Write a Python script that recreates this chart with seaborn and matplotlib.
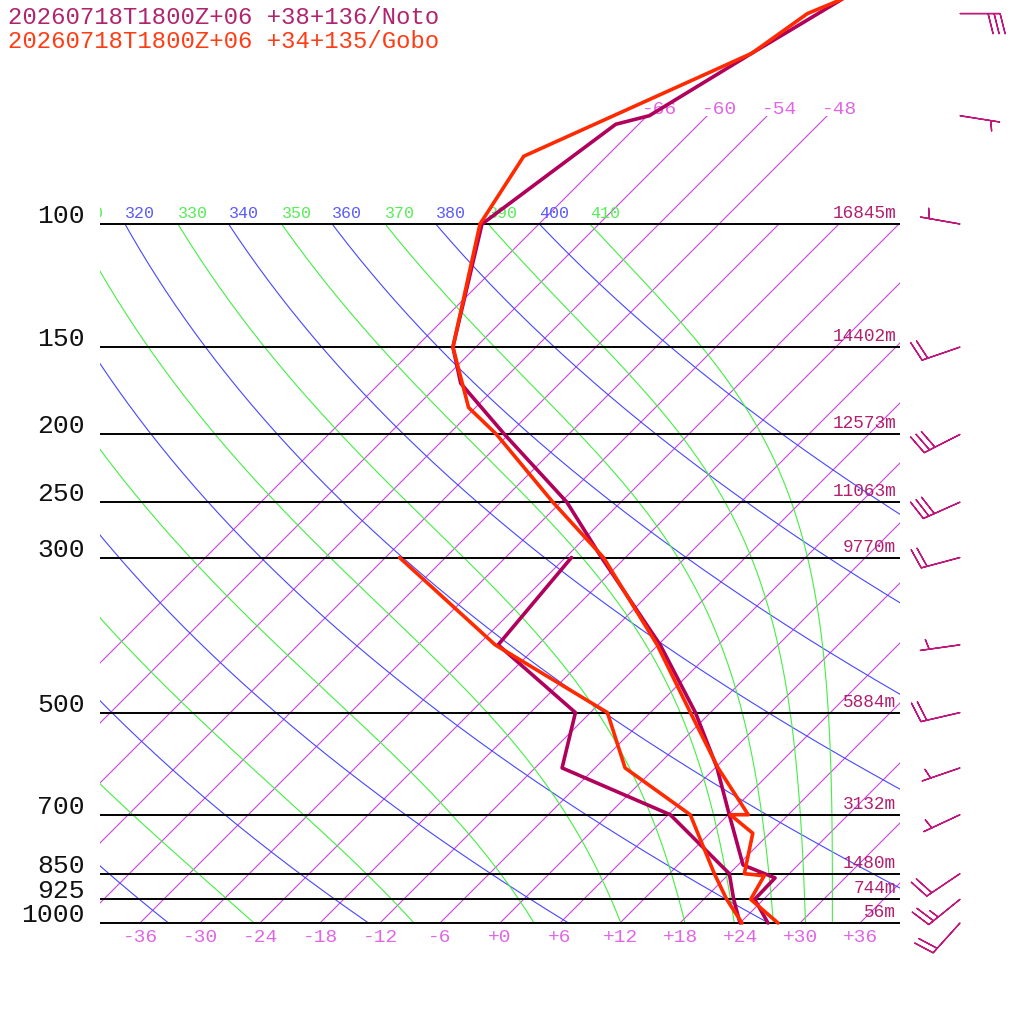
import numpy as np
import pandas as pd
import matplotlib
matplotlib.use("Agg")
import matplotlib.pyplot as plt
import matplotlib.transforms as mtransforms
from matplotlib.patches import Rectangle
import seaborn as sns

# ---- data ----
levels = [1000, 925, 850, 700, 500, 300, 250, 200, 150, 100]
level_heights = ["56m", "744m", "1480m", "3132m", "5884m", "9770m",
                 "11063m", "12573m", "14402m", "16845m"]

isotherms = list(range(-66, 37, 6))
top_isotherms = [-66, -60, -54, -48]
bottom_isotherm_labels = list(range(-36, 37, 6))
theta_lines = list(range(240, 401, 20))
thetae_lines = list(range(250, 411, 20))

noto_t_p = [1000, 925, 862, 826, 700, 600, 500, 400, 300, 250, 200, 169, 150, 100, 72, 70, 57, 48, 45]
noto_t = [26.8, 23.1, 23.0, 18.5, 12.1, 6.2, -1.5, -11.8, -26.4, -35.4, -48.4, -57.9, -62.3,
          -71.7, -68.3, -65.8, -61.8, -58.3, -57.2]
noto_td_p = [1000, 925, 850, 700, 600, 500, 400, 300]
noto_td = [24.0, 21.0, 18.0, 6.2, -9.3, -13.5, -28.0, -29.4]

gobo_t_p = [1000, 925, 856, 850, 744, 700, 700, 600, 500, 400, 300, 250, 200, 183, 150, 100, 80, 57, 50, 45]
gobo_t = [27.8, 22.7, 21.7, 19.5, 16.3, 12.2, 14.0, 6.3, -2.0, -12.1, -26.2, -36.8, -49.2, -54.7,
          -62.3, -71.9, -74.3, -61.8, -60.2, -55.7]
gobo_td_p = [1000, 925, 850, 700, 600, 500, 400, 300]
gobo_td = [24.2, 20.3, 16.5, 8.2, -3.0, -10.3, -28.3, -46.6]

wind_p = [50, 70, 100, 150, 200, 250, 300, 400, 500, 600, 700, 850, 925, 1000]
wind_dir = [90, 99, 280, 251, 243, 246, 255, 262, 257, 251, 245, 236, 231, 222]
wind_spd = [30, 5, 5, 20, 30, 30, 20, 5, 20, 5, 5, 20, 25, 20]

title_noto = "20260718T1800Z+06 +38+136/Noto"
title_gobo = "20260718T1800Z+06 +34+135/Gobo"

# ---- thermodynamics ----
SKEW = 699 / np.log(10) / 10


def skew_x(t, p):
    return np.asarray(t, float) + SKEW * np.log(1000.0 / np.asarray(p, float))


def sat_theta_e(tk, p):
    tc = tk - 273.15
    es = 6.112 * np.exp(17.67 * tc / (tc + 243.5))
    r = 622.0 * es / (p - es)
    return (tk * (1000.0 / p) ** (0.2854 * (1 - 0.28e-3 * r))
            * np.exp((3.376 / tk - 0.00254) * r * (1 + 0.81e-3 * r)))


def moist_temp(thetae, p):
    a = np.log(0.3 * p / 6.112)
    hi = np.minimum(243.5 * a / (17.67 - a) + 273.15, 330.0)
    lo = np.full_like(p, 150.0)
    for _ in range(60):
        mid = 0.5 * (lo + hi)
        big = sat_theta_e(mid, p) > thetae
        hi = np.where(big, mid, hi)
        lo = np.where(big, lo, mid)
    return 0.5 * (lo + hi) - 273.15


# ---- figure ----
sns.set_style("white")
plt.rcParams['font.family'] = ['Liberation Mono', 'DejaVu Sans Mono']

fig = plt.figure(figsize=(10.24, 10.24), dpi=100)
ax = fig.add_axes([0, 0, 1, 1])
ax.set_yscale('log')
ax.set_xlim(-50, 52.4)
p_top = 1000 * np.exp(-923 / (699 / np.log(10)))
p_bot = 1000 * np.exp(101 / (699 / np.log(10)))
ax.set_ylim(p_bot, p_top)
ax.axis('off')

box = Rectangle((-40, 70), 80, 930, transform=ax.transData, facecolor='none', edgecolor='none')
ax.add_patch(box)
text_clip = mtransforms.TransformedBbox(mtransforms.Bbox.from_extents(-40, 70, 40, 1000), ax.transData)

iso_col = '#cc44e0'
blue = '#4646ff'
green = '#44ee44'
pink_txt = '#e066e6'


def dots(dx=0, dy=0):
    return mtransforms.offset_copy(ax.transData, fig, x=dx, y=dy, units='dots')


# isotherms
for t in isotherms:
    ptop = 70 if t in top_isotherms else 100
    pp = np.array([1000.0, ptop])
    ln, = ax.plot(skew_x([t, t], pp), pp, color=iso_col, lw=0.8, zorder=1)
    ln.set_clip_path(box)
for t in top_isotherms:
    ax.text(skew_x(t, 70), 70, f"{t:+d}" if t >= 0 else str(t),
            transform=dots(-5, 6), ha='left', va='center', fontsize=14, color=pink_txt)
for t in bottom_isotherm_labels:
    ax.text(t, 1000, f"{t:+d}", transform=dots(0, -14), ha='center', va='center',
            fontsize=14, color=pink_txt)


def line_label(x, s, color):
    if x < -43:
        return
    txt = ax.text(x, 100, s, transform=dots(0, 11), ha='left', va='center',
                  fontsize=12, color=color, zorder=1)
    txt.set_clip_box(text_clip)
    txt.set_clip_on(True)


# dry adiabats and pseudo-adiabats
pgrid = np.geomspace(1000, 100, 200)
for th in theta_lines:
    tc = th * (pgrid / 1000.0) ** 0.2857 - 273.15
    ln, = ax.plot(skew_x(tc, pgrid), pgrid, color=blue, lw=0.8, zorder=1)
    ln.set_clip_path(box)
    line_label(float(skew_x(tc[-1], 100)), str(th), '#5a5aff')
for the in thetae_lines:
    tc = moist_temp(float(the), pgrid)
    ln, = ax.plot(skew_x(tc, pgrid), pgrid, color=green, lw=0.8, zorder=1)
    ln.set_clip_path(box)
    line_label(float(skew_x(tc[-1], 100)), str(the), '#55ee55')

# pressure levels
ax.hlines(levels, -40, 40, color='black', lw=1.4, zorder=2)
for p, h in zip(levels, level_heights):
    ax.text(-41.5, p, str(p), transform=dots(0, 8), ha='right', va='center',
            fontsize=19, color='#111111')
    ax.text(39.6, p, h, transform=dots(0, 2), ha='right', va='bottom',
            fontsize=12.8, color='#b0206e', zorder=3)

# profiles
frames = []
for name, curve, pp, tt in [("Noto", "T", noto_t_p, noto_t), ("Noto", "Td", noto_td_p, noto_td),
                            ("Gobo", "T", gobo_t_p, gobo_t), ("Gobo", "Td", gobo_td_p, gobo_td)]:
    frames.append(pd.DataFrame({"station": name, "curve": name + curve,
                                "p": pp, "x": skew_x(tt, pp)}))
prof = pd.concat(frames, ignore_index=True)
sns.lineplot(data=prof, x="x", y="p", hue="station", units="curve", estimator=None,
             sort=False, palette={"Noto": "#b0005c", "Gobo": "#ff2a00"},
             hue_order=["Noto", "Gobo"], lw=2.6, legend=False, ax=ax, zorder=5)
ax.set_xlim(-50, 52.4)
ax.set_ylim(p_bot, p_top)
ax.axis('off')

# wind barbs
d = np.deg2rad(wind_dir)
u = -np.array(wind_spd) * np.sin(d)
v = -np.array(wind_spd) * np.cos(d)
ax.barbs(np.full(len(wind_p), 46.0), wind_p, u, v, length=7.6, color='#c0187a',
         linewidth=1.0, sizes=dict(height=0.5, spacing=0.15), zorder=6, clip_on=False)

# titles
fig.text(8 / 1024, 1 - 17 / 1024, title_noto, ha='left', va='center', fontsize=17.2, color='#b0246e')
fig.text(8 / 1024, 1 - 41 / 1024, title_gobo, ha='left', va='center', fontsize=17.2, color='#ff3c14')

fig.savefig("out.png", dpi=100)
